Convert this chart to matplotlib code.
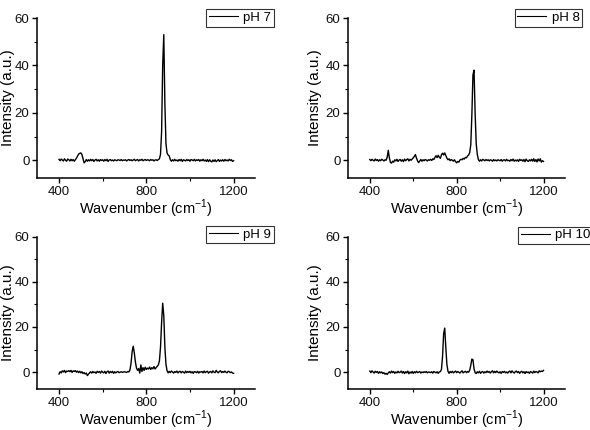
import matplotlib
matplotlib.use("Agg")
import matplotlib.pyplot as plt
from matplotlib.ticker import MultipleLocator

plt.rcParams['font.family'] = ['Liberation Sans', 'DejaVu Sans']
plt.rcParams['mathtext.fontset'] = 'custom'
plt.rcParams['mathtext.rm'] = 'Liberation Sans'

# sampling grid of the spectra (cm-1)
wavenumber = [
    400, 405, 410, 415, 420, 425, 430, 435, 440, 445,
    450, 455, 460, 465, 470, 475, 480, 485, 490, 495,
    500, 505, 510, 515, 520, 525, 530, 535, 540, 545,
    550, 555, 560, 565, 570, 575, 580, 585, 590, 595,
    600, 605, 610, 615, 620, 625, 630, 635, 640, 645,
    650, 655, 660, 665, 670, 675, 680, 685, 690, 695,
    700, 705, 710, 715, 720, 725, 730, 735, 740, 745,
    750, 755, 760, 765, 770, 775, 780, 785, 790, 795,
    800, 805, 810, 815, 820, 825, 830, 835, 840, 845,
    850, 855, 860, 865, 870, 875, 880, 885, 890, 895,
    900, 905, 910, 915, 920, 925, 930, 935, 940, 945,
    950, 955, 960, 965, 970, 975, 980, 985, 990, 995,
    1000, 1005, 1010, 1015, 1020, 1025, 1030, 1035, 1040, 1045,
    1050, 1055, 1060, 1065, 1070, 1075, 1080, 1085, 1090, 1095,
    1100, 1105, 1110, 1115, 1120, 1125, 1130, 1135, 1140, 1145,
    1150, 1155, 1160, 1165, 1170, 1175, 1180, 1185, 1190, 1195,
    1200,
]

ph7 = [
    0.4, -0.2, 0.5, 0.1, -0.3, 0.6, 0.0, -0.4, 0.5, 0.2,
    -0.3, 0.4, -0.2, 0.3, -0.4, 0.2, 0.9, 1.8, 2.6, 2.9,
    3.1, 2.4, 0.6, -1.1, -0.6, 0.3, -0.4, 0.2, -0.3, 0.4,
    -0.2, 0.3, -0.5, 0.1, 0.4, -0.3, 0.2, -0.4, 0.3, -0.1,
    0.2, -0.4, 0.3, -0.2, 0.4, -0.5, 0.1, 0.3, -0.2, 0.1,
    -0.3, 0.2, 0.0, -0.2, 0.2, 0.1, -0.1, 0.3, -0.2, 0.1,
    0.0, 0.2, -0.3, 0.1, 0.3, -0.1, 0.2, -0.2, 0.1, 0.4,
    -0.2, 0.1, 0.3, -0.3, 0.2, 0.0, 0.4, -0.2, 0.1, 0.3,
    -0.1, 0.2, 0.1, -0.2, 0.3, 0.0, 0.2, -0.3, 0.1, 0.2,
    -0.1, 0.3, 0.6, 2.5, 12.0, 40.0, 53.0, 24.0, 7.0, 3.0,
    2.2, 1.8, 0.2, -0.4, 0.2, -0.3, 0.4, -0.2, 0.1, -0.4,
    0.3, -0.2, 0.4, -0.5, 0.2, 0.0, -0.3, 0.3, -0.1, 0.2,
    -0.4, 0.3, 0.1, -0.2, 0.4, -0.3, 0.2, -0.1, 0.3, -0.4,
    0.2, -0.2, 0.4, -0.3, 0.1, -0.5, 0.3, -0.6, 0.2, -0.4,
    -0.7, 0.1, -0.5, 0.2, -0.6, -0.2, 0.3, -0.5, 0.1, -0.3,
    0.2, -0.4, 0.3, -0.2, 0.1, -0.3, 0.4, -0.1, 0.2, -0.5,
    -0.2,
]

ph8 = [
    0.3, -0.2, 0.4, 0.0, -0.3, 0.5, -0.1, 0.3, -0.4, 0.2,
    -0.2, 0.4, 0.1, -0.3, 0.2, 0.0, 1.2, 4.2, 1.0, -0.9,
    -1.2, -0.4, -0.8, 0.2, -0.3, 0.4, -0.5, 0.1, 0.3, -0.4,
    0.2, -0.6, 0.5, -0.2, 0.3, 0.6, -0.3, 0.4, 0.0, 0.5,
    1.0, 1.6, 2.4, 0.9, -0.3, -1.0, -0.3, 0.3, -0.4, 0.2,
    -0.2, 0.3, 0.1, -0.3, 0.2, 0.0, 0.4, -0.1, 0.6, 0.3,
    1.2, 1.9, 1.1, 2.1, 1.3, 0.8, 2.3, 3.0, 2.2, 3.1,
    2.0, 0.9, 0.2, 0.6, -0.2, 0.3, 0.0, -0.4, 0.2, -0.6,
    -1.1, -0.5, -0.8, 0.1, 0.4, 0.2, 0.8, 0.5, 1.2, 1.0,
    1.8, 2.2, 3.2, 6.5, 19.0, 36.0, 38.0, 20.0, 7.0, 2.5,
    0.3, -0.4, 0.2, -0.3, 0.4, 0.1, -0.2, 0.3, -0.1, 0.2,
    -0.3, 0.2, 0.0, -0.4, 0.3, -0.2, 0.1, -0.3, 0.2, 0.0,
    -0.2, 0.3, -0.4, 0.1, 0.2, -0.3, 0.4, -0.2, 0.0, -0.4,
    0.3, -0.2, 0.5, -0.4, 0.1, -0.3, 0.2, -0.5, 0.4, -0.1,
    0.2, -0.4, 0.3, -0.6, 0.5, -0.2, -0.5, 0.2, -0.3, 0.4,
    -0.4, 0.6, -0.5, 0.3, -0.7, 0.5, -0.3, 0.6, -0.8, -0.2,
    -0.5,
]

ph9 = [
    -0.8, 0.2, -0.3, 0.6, 0.1, 0.8, -0.2, 0.5, 0.3, 0.7,
    0.2, 0.8, -0.1, 0.6, 0.3, 0.7, 0.0, 0.5, -0.2, 0.4,
    -0.3, 0.2, -0.6, -0.2, -0.8, -0.4, -1.5, -0.9, -0.3, 0.2,
    -0.4, 0.3, -0.2, 0.1, -0.5, 0.4, -0.1, 0.3, -0.4, 0.5,
    0.0, -0.3, 0.4, -0.6, 0.2, 0.5, -0.4, 0.3, -0.2, 0.4,
    -0.5, 0.2, -0.3, 0.1, 0.3, -0.2, 0.0, 0.2, -0.1, 0.1,
    0.2, 0.0, -0.1, 0.3, 0.1, 1.0, 4.0, 9.0, 11.5, 8.5,
    4.5, 1.8, 0.8, 1.6, -0.4, 3.2, 0.3, 2.0, 0.8, 2.2,
    1.2, 1.8, 1.4, 2.3, 1.2, 2.0, 1.5, 2.5, 1.4, 2.0,
    2.6, 3.2, 5.0, 11.0, 22.0, 30.5, 25.0, 11.0, 3.5, 0.6,
    -0.3, 0.4, -0.2, 0.5, 0.1, -0.4, 0.3, -0.1, 0.5, -0.3,
    0.2, 0.4, -0.3, 0.3, 0.0, -0.4, 0.5, -0.2, 0.3, -0.1,
    0.4, -0.3, 0.2, -0.5, 0.3, 0.1, -0.2, 0.4, -0.4, 0.2,
    0.0, 0.3, -0.3, 0.5, -0.2, 0.2, 0.4, -0.4, 0.1, 0.3,
    -0.3, 0.6, 0.0, -0.2, 0.8, 0.1, -0.3, 0.4, 0.6, -0.2,
    0.3, -0.1, 0.5, 0.0, -0.3, 0.4, 0.2, -0.2, 0.1, -0.4,
    -0.5,
]

ph10 = [
    0.5, -0.2, 0.6, 0.1, -0.4, 0.4, -0.1, 0.3, -0.5, 0.2,
    -0.3, 0.1, -0.6, -0.2, -0.9, -0.5, -1.0, -0.3, 0.2, -0.4,
    0.5, -0.2, 0.3, -0.5, 0.1, -0.3, 0.4, -0.2, 0.0, 0.5,
    -0.4, 0.3, -0.6, 0.2, -0.3, 0.5, -0.7, 0.1, -0.4, 0.3,
    -0.5, 0.2, -0.3, 0.4, -0.2, 0.0, 0.3, -0.4, 0.1, -0.2,
    0.2, -0.1, 0.3, -0.3, 0.1, 0.0, -0.2, 0.2, -0.4, 0.3,
    0.0, -0.3, 0.2, -0.5, 0.1, 0.3, 1.2, 7.0, 17.0, 19.5,
    11.0, 3.5, 0.4, -0.5, 0.3, -0.2, 0.4, -0.3, 0.1, 0.5,
    -0.2, 0.3, 0.0, -0.4, 0.2, 0.6, -0.3, 0.1, 0.4, -0.2,
    0.3, 0.0, 0.8, 3.0, 5.8, 5.5, 1.5, -0.2, -0.6, 0.2,
    -0.3, 0.4, -0.5, 0.1, 0.3, -0.4, 0.2, -0.2, 0.5, -0.1,
    0.3, -0.4, 0.2, 0.6, -0.3, 0.4, -0.2, 0.5, 0.0, -0.3,
    0.2, -0.5, 0.3, -0.1, 0.4, -0.3, 0.1, -0.4, 0.2, 0.5,
    -0.3, 0.6, 0.0, -0.4, 0.2, 0.5, -0.2, 0.3, -0.5, 0.1,
    0.4, -0.3, 0.2, -0.6, 0.3, -0.2, 0.1, -0.5, 0.3, 0.0,
    -0.4, 0.5, -0.2, 0.3, 0.1, -0.3, 0.6, 0.2, 0.5, 0.3,
    0.8,
]

labels = ["pH 7", "pH 8", "pH 9", "pH 10"]
spectra = [ph7, ph8, ph9, ph10]

fig = plt.figure(figsize=(5.9, 4.3), dpi=100)

# axes boxes [left, bottom, width, height]
boxes = [
    [0.063, 0.586, 0.370, 0.372],
    [0.590, 0.586, 0.368, 0.372],
    [0.063, 0.095, 0.370, 0.355],
    [0.590, 0.095, 0.368, 0.355],
]
anchors = [(1.083, 1.056), (1.078, 1.056), (1.083, 1.07), (1.13, 1.065)]
ylab_x = [-0.10, -0.12, -0.10, -0.12]

for i, (box, y, lab) in enumerate(zip(boxes, spectra, labels)):
    ax = fig.add_axes(box)
    ax.plot(wavenumber, y, color='black', lw=1.0, label=lab)
    ax.set_xlim(300, 1300)
    ax.set_ylim(-7.5, 60)
    ax.xaxis.set_major_locator(MultipleLocator(400))
    ax.xaxis.set_minor_locator(MultipleLocator(200))
    ax.yaxis.set_major_locator(MultipleLocator(20))
    ax.yaxis.set_minor_locator(MultipleLocator(10))
    ax.set_xticks([400, 800, 1200])
    ax.set_yticks([0, 20, 40, 60])
    for s in ['top', 'right']:
        ax.spines[s].set_visible(False)
    for s in ['left', 'bottom']:
        ax.spines[s].set_linewidth(1.1)
    ax.tick_params(which='major', direction='out', length=3.5, width=1.0,
                   labelsize=9.5, pad=2, labelcolor='#111111')
    ax.tick_params(which='minor', direction='out', length=2.2, width=0.8)
    ax.set_xlabel("Wavenumber (cm$^{-1}$)", fontsize=10.5, labelpad=0)
    ax.set_ylabel("Intensity (a.u.)", fontsize=11)
    ax.yaxis.set_label_coords(ylab_x[i], 0.5)
    leg = ax.legend(loc='upper right', bbox_to_anchor=anchors[i],
                    borderaxespad=0, fontsize=9.5, fancybox=False,
                    handlelength=2.2, borderpad=0.2, handletextpad=0.4)
    leg.get_frame().set_edgecolor('black')
    leg.get_frame().set_linewidth(0.8)
    leg.get_lines()[0].set_linewidth(0.8)

fig.savefig("out.png", dpi=100)
